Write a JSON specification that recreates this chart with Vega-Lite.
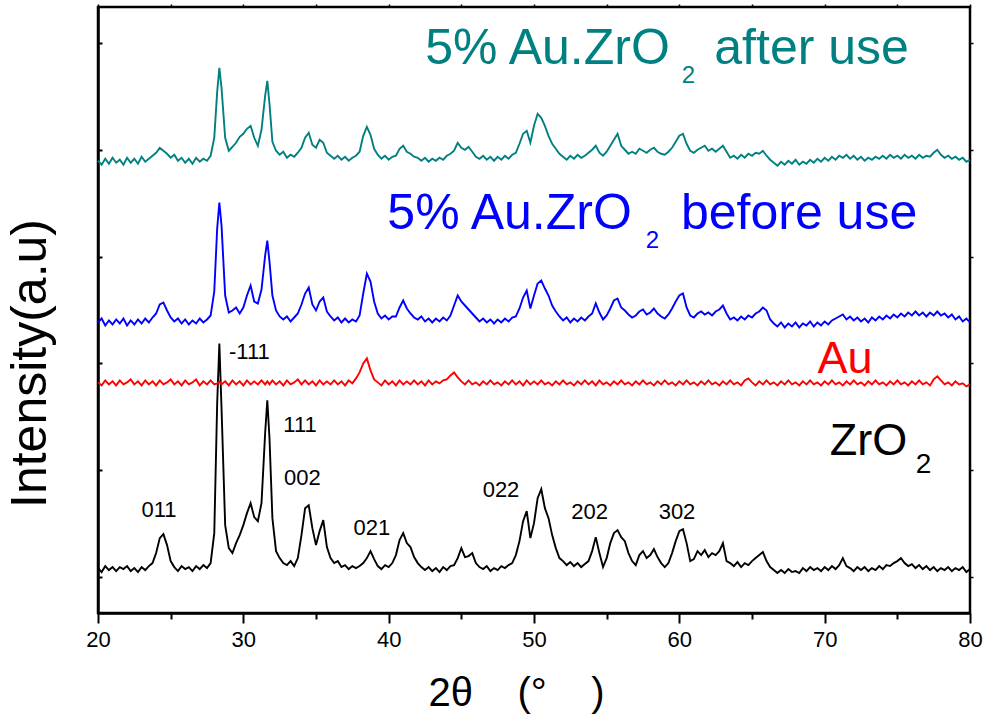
{
  "$schema": "https://vega.github.io/schema/vega-lite/v6.json",
  "width": 872,
  "height": 606,
  "autosize": "none",
  "padding": {"left": 98, "top": 7, "right": 15, "bottom": 112},
  "background": "white",
  "config": {
    "view": {"stroke": "black", "strokeWidth": 2.5},
    "font": "Liberation Sans",
    "axis": {"grid": false}
  },
  "datasets": {
    "xrd": [
      {"x":20,"k":45,"r":231,"b":291,"t":453},
      {"x":20.25,"k":41,"r":228,"b":295,"t":449},
      {"x":20.5,"k":47,"r":233,"b":288,"t":455},
      {"x":20.75,"k":43,"r":229,"b":293,"t":450},
      {"x":21,"k":46,"r":232,"b":289,"t":456},
      {"x":21.25,"k":42,"r":228,"b":294,"t":451},
      {"x":21.5,"k":46,"r":233,"b":290,"t":454},
      {"x":21.75,"k":44,"r":229,"b":295,"t":449},
      {"x":22,"k":47,"r":231,"b":288,"t":456},
      {"x":22.25,"k":42,"r":234,"b":293,"t":451},
      {"x":22.5,"k":45,"r":229,"b":289,"t":455},
      {"x":22.75,"k":41,"r":232,"b":294,"t":450},
      {"x":23,"k":46,"r":228,"b":290,"t":457},
      {"x":23.25,"k":43,"r":233,"b":295,"t":452},
      {"x":23.5,"k":47,"r":229,"b":291,"t":455},
      {"x":23.75,"k":50,"r":232,"b":296,"t":458},
      {"x":24,"k":60,"r":228,"b":300,"t":461},
      {"x":24.25,"k":75,"r":233,"b":309,"t":466},
      {"x":24.5,"k":79,"r":229,"b":311,"t":463},
      {"x":24.75,"k":68,"r":231,"b":303,"t":460},
      {"x":25,"k":52,"r":234,"b":296,"t":456},
      {"x":25.25,"k":46,"r":229,"b":292,"t":459},
      {"x":25.5,"k":42,"r":232,"b":295,"t":453},
      {"x":25.75,"k":47,"r":228,"b":290,"t":456},
      {"x":26,"k":44,"r":233,"b":294,"t":451},
      {"x":26.25,"k":46,"r":229,"b":289,"t":455},
      {"x":26.5,"k":42,"r":231,"b":293,"t":450},
      {"x":26.75,"k":47,"r":234,"b":290,"t":456},
      {"x":27,"k":44,"r":228,"b":295,"t":452},
      {"x":27.25,"k":48,"r":232,"b":291,"t":455},
      {"x":27.5,"k":45,"r":229,"b":294,"t":453},
      {"x":27.75,"k":50,"r":233,"b":298,"t":458},
      {"x":28,"k":80,"r":229,"b":322,"t":476},
      {"x":28.2,"k":210,"r":230,"b":385,"t":522},
      {"x":28.35,"k":270,"r":232,"b":411,"t":546},
      {"x":28.5,"k":205,"r":229,"b":388,"t":526},
      {"x":28.75,"k":88,"r":232,"b":318,"t":476},
      {"x":29,"k":65,"r":228,"b":301,"t":463},
      {"x":29.25,"k":60,"r":233,"b":303,"t":467},
      {"x":29.5,"k":70,"r":229,"b":306,"t":471},
      {"x":29.75,"k":78,"r":232,"b":300,"t":477},
      {"x":30,"k":88,"r":228,"b":306,"t":480},
      {"x":30.25,"k":100,"r":233,"b":318,"t":485},
      {"x":30.5,"k":110,"r":229,"b":328,"t":488},
      {"x":30.75,"k":96,"r":232,"b":312,"t":476},
      {"x":31,"k":92,"r":229,"b":310,"t":468},
      {"x":31.25,"k":110,"r":233,"b":324,"t":484},
      {"x":31.5,"k":180,"r":229,"b":358,"t":518},
      {"x":31.65,"k":213,"r":232,"b":373,"t":533},
      {"x":31.8,"k":175,"r":229,"b":352,"t":510},
      {"x":32,"k":95,"r":233,"b":318,"t":472},
      {"x":32.25,"k":62,"r":229,"b":303,"t":463},
      {"x":32.5,"k":55,"r":232,"b":297,"t":459},
      {"x":32.75,"k":50,"r":228,"b":294,"t":462},
      {"x":33,"k":48,"r":233,"b":297,"t":456},
      {"x":33.25,"k":52,"r":229,"b":292,"t":459},
      {"x":33.5,"k":47,"r":231,"b":296,"t":457},
      {"x":33.75,"k":55,"r":234,"b":300,"t":461},
      {"x":34,"k":78,"r":229,"b":309,"t":466},
      {"x":34.25,"k":105,"r":233,"b":320,"t":476},
      {"x":34.5,"k":108,"r":229,"b":326,"t":481},
      {"x":34.75,"k":85,"r":232,"b":309,"t":469},
      {"x":35,"k":68,"r":228,"b":303,"t":466},
      {"x":35.25,"k":82,"r":233,"b":312,"t":474},
      {"x":35.5,"k":93,"r":229,"b":316,"t":471},
      {"x":35.75,"k":66,"r":232,"b":302,"t":461},
      {"x":36,"k":55,"r":229,"b":297,"t":458},
      {"x":36.25,"k":50,"r":233,"b":293,"t":455},
      {"x":36.5,"k":52,"r":229,"b":296,"t":458},
      {"x":36.75,"k":46,"r":232,"b":291,"t":454},
      {"x":37,"k":48,"r":228,"b":295,"t":457},
      {"x":37.25,"k":44,"r":233,"b":291,"t":453},
      {"x":37.5,"k":47,"r":230,"b":294,"t":456},
      {"x":37.75,"k":45,"r":235,"b":292,"t":458},
      {"x":38,"k":47,"r":241,"b":298,"t":462},
      {"x":38.25,"k":50,"r":250,"b":320,"t":478},
      {"x":38.5,"k":55,"r":255,"b":340,"t":487},
      {"x":38.75,"k":62,"r":243,"b":332,"t":479},
      {"x":39,"k":54,"r":234,"b":312,"t":465},
      {"x":39.25,"k":47,"r":231,"b":300,"t":459},
      {"x":39.5,"k":44,"r":228,"b":295,"t":455},
      {"x":39.75,"k":48,"r":233,"b":298,"t":458},
      {"x":40,"k":46,"r":229,"b":294,"t":454},
      {"x":40.25,"k":50,"r":232,"b":297,"t":457},
      {"x":40.5,"k":58,"r":228,"b":297,"t":458},
      {"x":40.75,"k":73,"r":233,"b":306,"t":465},
      {"x":41,"k":80,"r":229,"b":313,"t":468},
      {"x":41.25,"k":70,"r":232,"b":305,"t":462},
      {"x":41.5,"k":66,"r":229,"b":300,"t":460},
      {"x":41.75,"k":56,"r":233,"b":296,"t":457},
      {"x":42,"k":50,"r":229,"b":294,"t":456},
      {"x":42.25,"k":46,"r":232,"b":297,"t":453},
      {"x":42.5,"k":43,"r":228,"b":292,"t":456},
      {"x":42.75,"k":46,"r":233,"b":295,"t":452},
      {"x":43,"k":42,"r":229,"b":291,"t":455},
      {"x":43.25,"k":45,"r":232,"b":295,"t":453},
      {"x":43.5,"k":41,"r":230,"b":292,"t":456},
      {"x":43.75,"k":46,"r":233,"b":296,"t":454},
      {"x":44,"k":43,"r":234,"b":293,"t":458},
      {"x":44.25,"k":47,"r":238,"b":298,"t":460},
      {"x":44.5,"k":48,"r":241,"b":308,"t":463},
      {"x":44.75,"k":55,"r":236,"b":318,"t":471},
      {"x":45,"k":65,"r":232,"b":312,"t":466},
      {"x":45.25,"k":56,"r":229,"b":308,"t":464},
      {"x":45.5,"k":57,"r":233,"b":304,"t":467},
      {"x":45.75,"k":60,"r":229,"b":300,"t":462},
      {"x":46,"k":50,"r":231,"b":296,"t":457},
      {"x":46.25,"k":46,"r":228,"b":292,"t":455},
      {"x":46.5,"k":44,"r":232,"b":295,"t":458},
      {"x":46.75,"k":47,"r":229,"b":291,"t":454},
      {"x":47,"k":42,"r":233,"b":294,"t":457},
      {"x":47.25,"k":45,"r":229,"b":290,"t":453},
      {"x":47.5,"k":43,"r":231,"b":294,"t":457},
      {"x":47.75,"k":47,"r":228,"b":291,"t":454},
      {"x":48,"k":45,"r":232,"b":295,"t":458},
      {"x":48.25,"k":48,"r":229,"b":292,"t":455},
      {"x":48.5,"k":50,"r":233,"b":296,"t":459},
      {"x":48.75,"k":58,"r":229,"b":297,"t":461},
      {"x":49,"k":72,"r":232,"b":305,"t":470},
      {"x":49.25,"k":92,"r":228,"b":316,"t":480},
      {"x":49.5,"k":102,"r":233,"b":323,"t":483},
      {"x":49.75,"k":75,"r":229,"b":305,"t":471},
      {"x":50,"k":90,"r":232,"b":318,"t":488},
      {"x":50.25,"k":115,"r":229,"b":330,"t":500},
      {"x":50.5,"k":124,"r":233,"b":333,"t":496},
      {"x":50.75,"k":105,"r":229,"b":325,"t":488},
      {"x":51,"k":95,"r":231,"b":318,"t":478},
      {"x":51.25,"k":78,"r":228,"b":308,"t":470},
      {"x":51.5,"k":65,"r":232,"b":302,"t":465},
      {"x":51.75,"k":55,"r":229,"b":297,"t":460},
      {"x":52,"k":52,"r":233,"b":293,"t":457},
      {"x":52.25,"k":48,"r":229,"b":296,"t":454},
      {"x":52.5,"k":51,"r":231,"b":291,"t":458},
      {"x":52.75,"k":47,"r":228,"b":295,"t":455},
      {"x":53,"k":50,"r":232,"b":292,"t":459},
      {"x":53.25,"k":46,"r":229,"b":296,"t":456},
      {"x":53.5,"k":49,"r":233,"b":293,"t":458},
      {"x":53.75,"k":52,"r":229,"b":297,"t":461},
      {"x":54,"k":62,"r":232,"b":300,"t":464},
      {"x":54.25,"k":76,"r":228,"b":310,"t":468},
      {"x":54.5,"k":60,"r":233,"b":301,"t":461},
      {"x":54.75,"k":46,"r":229,"b":294,"t":458},
      {"x":55,"k":55,"r":231,"b":298,"t":462},
      {"x":55.25,"k":70,"r":228,"b":305,"t":468},
      {"x":55.5,"k":80,"r":232,"b":313,"t":474},
      {"x":55.75,"k":83,"r":229,"b":315,"t":480},
      {"x":56,"k":76,"r":233,"b":306,"t":468},
      {"x":56.25,"k":72,"r":229,"b":303,"t":464},
      {"x":56.5,"k":60,"r":231,"b":299,"t":460},
      {"x":56.75,"k":52,"r":228,"b":296,"t":462},
      {"x":57,"k":48,"r":232,"b":298,"t":460},
      {"x":57.25,"k":58,"r":229,"b":302,"t":465},
      {"x":57.5,"k":62,"r":233,"b":304,"t":463},
      {"x":57.75,"k":55,"r":229,"b":299,"t":461},
      {"x":58,"k":58,"r":231,"b":301,"t":464},
      {"x":58.25,"k":64,"r":228,"b":305,"t":466},
      {"x":58.5,"k":56,"r":232,"b":300,"t":462},
      {"x":58.75,"k":50,"r":229,"b":297,"t":460},
      {"x":59,"k":46,"r":233,"b":295,"t":459},
      {"x":59.25,"k":50,"r":229,"b":299,"t":462},
      {"x":59.5,"k":60,"r":231,"b":305,"t":466},
      {"x":59.75,"k":72,"r":228,"b":312,"t":472},
      {"x":60,"k":82,"r":232,"b":318,"t":478},
      {"x":60.25,"k":84,"r":229,"b":320,"t":480},
      {"x":60.5,"k":70,"r":233,"b":306,"t":470},
      {"x":60.75,"k":52,"r":229,"b":298,"t":463},
      {"x":61,"k":54,"r":231,"b":296,"t":461},
      {"x":61.25,"k":62,"r":228,"b":300,"t":464},
      {"x":61.5,"k":58,"r":232,"b":302,"t":466},
      {"x":61.75,"k":63,"r":229,"b":299,"t":468},
      {"x":62,"k":56,"r":233,"b":301,"t":463},
      {"x":62.25,"k":60,"r":229,"b":298,"t":465},
      {"x":62.5,"k":58,"r":231,"b":302,"t":462},
      {"x":62.75,"k":62,"r":228,"b":304,"t":465},
      {"x":63,"k":70,"r":232,"b":308,"t":468},
      {"x":63.25,"k":52,"r":229,"b":300,"t":462},
      {"x":63.5,"k":50,"r":233,"b":294,"t":456},
      {"x":63.75,"k":47,"r":229,"b":296,"t":458},
      {"x":64,"k":51,"r":231,"b":293,"t":455},
      {"x":64.25,"k":46,"r":228,"b":297,"t":459},
      {"x":64.5,"k":50,"r":233,"b":294,"t":456},
      {"x":64.75,"k":48,"r":235,"b":298,"t":460},
      {"x":65,"k":52,"r":231,"b":296,"t":458},
      {"x":65.25,"k":55,"r":228,"b":300,"t":461},
      {"x":65.5,"k":58,"r":232,"b":302,"t":460},
      {"x":65.75,"k":61,"r":229,"b":306,"t":463},
      {"x":66,"k":52,"r":233,"b":303,"t":458},
      {"x":66.25,"k":46,"r":229,"b":294,"t":454},
      {"x":66.5,"k":43,"r":231,"b":290,"t":451},
      {"x":66.75,"k":40,"r":228,"b":287,"t":448},
      {"x":67,"k":43,"r":232,"b":291,"t":452},
      {"x":67.25,"k":40,"r":229,"b":286,"t":449},
      {"x":67.5,"k":44,"r":233,"b":290,"t":453},
      {"x":67.75,"k":41,"r":229,"b":287,"t":450},
      {"x":68,"k":42,"r":231,"b":291,"t":454},
      {"x":68.25,"k":40,"r":228,"b":286,"t":449},
      {"x":68.5,"k":45,"r":232,"b":290,"t":452},
      {"x":68.75,"k":42,"r":229,"b":288,"t":450},
      {"x":69,"k":46,"r":233,"b":292,"t":454},
      {"x":69.25,"k":43,"r":229,"b":287,"t":451},
      {"x":69.5,"k":45,"r":231,"b":291,"t":455},
      {"x":69.75,"k":42,"r":228,"b":288,"t":452},
      {"x":70,"k":46,"r":232,"b":292,"t":456},
      {"x":70.25,"k":43,"r":229,"b":289,"t":453},
      {"x":70.5,"k":47,"r":233,"b":293,"t":457},
      {"x":70.75,"k":44,"r":229,"b":295,"t":454},
      {"x":71,"k":48,"r":231,"b":297,"t":458},
      {"x":71.25,"k":55,"r":228,"b":299,"t":456},
      {"x":71.5,"k":47,"r":232,"b":294,"t":459},
      {"x":71.75,"k":45,"r":229,"b":297,"t":455},
      {"x":72,"k":42,"r":233,"b":293,"t":458},
      {"x":72.25,"k":46,"r":229,"b":296,"t":454},
      {"x":72.5,"k":43,"r":231,"b":292,"t":457},
      {"x":72.75,"k":46,"r":228,"b":295,"t":453},
      {"x":73,"k":42,"r":232,"b":291,"t":456},
      {"x":73.25,"k":45,"r":229,"b":296,"t":454},
      {"x":73.5,"k":43,"r":233,"b":293,"t":457},
      {"x":73.75,"k":47,"r":229,"b":297,"t":455},
      {"x":74,"k":44,"r":231,"b":294,"t":458},
      {"x":74.25,"k":48,"r":228,"b":298,"t":455},
      {"x":74.5,"k":47,"r":232,"b":295,"t":459},
      {"x":74.75,"k":50,"r":229,"b":299,"t":456},
      {"x":75,"k":52,"r":233,"b":296,"t":458},
      {"x":75.25,"k":55,"r":229,"b":300,"t":455},
      {"x":75.5,"k":50,"r":231,"b":297,"t":459},
      {"x":75.75,"k":47,"r":228,"b":301,"t":456},
      {"x":76,"k":49,"r":232,"b":298,"t":458},
      {"x":76.25,"k":45,"r":229,"b":302,"t":455},
      {"x":76.5,"k":48,"r":233,"b":298,"t":459},
      {"x":76.75,"k":44,"r":229,"b":301,"t":456},
      {"x":77,"k":47,"r":231,"b":297,"t":458},
      {"x":77.25,"k":43,"r":228,"b":301,"t":457},
      {"x":77.5,"k":46,"r":234,"b":298,"t":461},
      {"x":77.75,"k":42,"r":237,"b":302,"t":464},
      {"x":78,"k":45,"r":233,"b":298,"t":459},
      {"x":78.25,"k":43,"r":229,"b":300,"t":456},
      {"x":78.5,"k":46,"r":231,"b":296,"t":458},
      {"x":78.75,"k":42,"r":228,"b":299,"t":455},
      {"x":79,"k":45,"r":232,"b":294,"t":457},
      {"x":79.25,"k":43,"r":229,"b":297,"t":454},
      {"x":79.5,"k":46,"r":230,"b":292,"t":456},
      {"x":79.75,"k":41,"r":227,"b":295,"t":452},
      {"x":80,"k":44,"r":229,"b":291,"t":454}
    ],
    "peaks": [
      {"x":24.2,"y":96,"txt":"011"},
      {"x":30.42,"y":254,"txt":"-111"},
      {"x":33.9,"y":181,"txt":"111"},
      {"x":34.07,"y":128,"txt":"002"},
      {"x":38.85,"y":78,"txt":"021"},
      {"x":47.73,"y":116,"txt":"022"},
      {"x":53.82,"y":94,"txt":"202"},
      {"x":59.84,"y":94,"txt":"302"}
    ],
    "bignames": [
      {"x":50.93,"y":550,"txt":"5% Au.ZrO","series":"t"},
      {"x":69.1,"y":550,"txt":"after use","series":"t"},
      {"x":48.32,"y":385,"txt":"5% Au.ZrO","series":"b"},
      {"x":68.24,"y":385,"txt":"before use","series":"b"}
    ],
    "midnames": [
      {"x":71.4,"y":240,"txt":"Au","series":"r"},
      {"x":73.02,"y":158,"txt":"ZrO","series":"k"}
    ],
    "subs": [
      {"x":60.63,"y":531,"txt":"2","series":"t"},
      {"x":58.15,"y":366,"txt":"2","series":"b"}
    ],
    "subk": [
      {"x":76.8,"y":140,"txt":"2","series":"k"}
    ]
  },
  "layer": [
    {
      "data": {"name": "xrd"},
      "transform": [{"fold": ["k", "r", "b", "t"], "as": ["series", "val"]}],
      "mark": {"type": "line", "strokeWidth": 1.9},
      "encoding": {
        "x": {
          "field": "x", "type": "quantitative",
          "scale": {"domain": [20, 80], "nice": false, "zero": false},
          "axis": {
            "orient": "bottom",
            "values": [20, 25, 30, 35, 40, 45, 50, 55, 60, 65, 70, 75, 80],
            "labelExpr": "datum.value % 10 === 0 ? datum.label : ''",
            "labelOverlap": false,
            "labelFlush": false,
            "labelFont": "Liberation Sans",
            "labelFontSize": 22,
            "labelColor": "black",
            "labelPadding": 6,
            "domainColor": "black",
            "domainWidth": 2.5,
            "tickColor": "black",
            "tickWidth": 2,
            "tickSize": {"condition": {"test": "datum.value % 10 === 0", "value": 10}, "value": 6},
            "title": "2θ\u00a0\u00a0\u00a0\u00a0(°\u00a0\u00a0\u00a0\u00a0)",
            "titleFont": "Liberation Sans",
            "titleFontSize": 40,
            "titleFontWeight": "normal",
            "titleColor": "black",
            "titleX": 418,
            "titleY": 92,
            "titleAlign": "center",
            "titleBaseline": "alphabetic"
          }
        },
        "y": {
          "field": "val", "type": "quantitative",
          "scale": {"domain": [0, 607], "nice": false, "zero": false},
          "axis": {
            "orient": "left",
            "values": [36, 143, 250, 357, 464, 571],
            "labels": false,
            "domainColor": "black",
            "domainWidth": 2.5,
            "tickColor": "black",
            "tickWidth": 2,
            "tickSize": -4,
            "title": "Intensity(a.u)",
            "titleFont": "Liberation Sans",
            "titleFontSize": 50,
            "titleFontWeight": "normal",
            "titleColor": "black",
            "titleAngle": 270,
            "titleX": -53,
            "titleY": 356,
            "titleAlign": "center",
            "titleBaseline": "alphabetic"
          }
        },
        "color": {
          "field": "series", "type": "nominal",
          "scale": {"domain": ["k", "r", "b", "t"], "range": ["#000000", "#ff0000", "#0000ff", "#008080"]},
          "legend": null
        }
      }
    },
    {
      "data": {"name": "peaks"},
      "mark": {"type": "text", "fontSize": 22, "align": "center", "baseline": "alphabetic", "color": "black", "font": "Liberation Sans"},
      "encoding": {
        "x": {
          "field": "x", "type": "quantitative",
          "scale": {"domain": [20, 80], "nice": false, "zero": false},
          "axis": {
            "orient": "top",
            "values": [20, 25, 30, 35, 40, 45, 50, 55, 60, 65, 70, 75, 80],
            "labels": false, "domain": false, "title": null,
            "tickColor": "black", "tickWidth": 1.5, "tickSize": 3
          }
        },
        "y": {
          "field": "y", "type": "quantitative",
          "scale": {"domain": [0, 607], "nice": false, "zero": false},
          "axis": {
            "orient": "right",
            "values": [36, 143, 250, 357, 464, 571],
            "labels": false, "domain": false, "title": null,
            "tickColor": "black", "tickWidth": 1.5, "tickSize": 3
          }
        },
        "text": {"field": "txt"}
      }
    },
    {
      "data": {"name": "bignames"},
      "mark": {"type": "text", "fontSize": 50, "align": "center", "baseline": "alphabetic", "font": "Liberation Sans"},
      "encoding": {
        "x": {"field": "x", "type": "quantitative", "scale": {"domain": [20, 80], "nice": false, "zero": false}, "axis": null},
        "y": {"field": "y", "type": "quantitative", "scale": {"domain": [0, 607], "nice": false, "zero": false}, "axis": null},
        "color": {"field": "series", "type": "nominal", "scale": {"domain": ["k", "r", "b", "t"], "range": ["#000000", "#ff0000", "#0000ff", "#008080"]}, "legend": null},
        "text": {"field": "txt"}
      }
    },
    {
      "data": {"name": "midnames"},
      "mark": {"type": "text", "fontSize": 45, "align": "center", "baseline": "alphabetic", "font": "Liberation Sans"},
      "encoding": {
        "x": {"field": "x", "type": "quantitative", "scale": {"domain": [20, 80], "nice": false, "zero": false}, "axis": null},
        "y": {"field": "y", "type": "quantitative", "scale": {"domain": [0, 607], "nice": false, "zero": false}, "axis": null},
        "color": {"field": "series", "type": "nominal", "scale": {"domain": ["k", "r", "b", "t"], "range": ["#000000", "#ff0000", "#0000ff", "#008080"]}, "legend": null},
        "text": {"field": "txt"}
      }
    },
    {
      "data": {"name": "subs"},
      "mark": {"type": "text", "fontSize": 24, "align": "center", "baseline": "alphabetic", "font": "Liberation Sans"},
      "encoding": {
        "x": {"field": "x", "type": "quantitative", "scale": {"domain": [20, 80], "nice": false, "zero": false}, "axis": null},
        "y": {"field": "y", "type": "quantitative", "scale": {"domain": [0, 607], "nice": false, "zero": false}, "axis": null},
        "color": {"field": "series", "type": "nominal", "scale": {"domain": ["k", "r", "b", "t"], "range": ["#000000", "#ff0000", "#0000ff", "#008080"]}, "legend": null},
        "text": {"field": "txt"}
      }
    },
    {
      "data": {"name": "subk"},
      "mark": {"type": "text", "fontSize": 28, "align": "center", "baseline": "alphabetic", "font": "Liberation Sans"},
      "encoding": {
        "x": {"field": "x", "type": "quantitative", "scale": {"domain": [20, 80], "nice": false, "zero": false}, "axis": null},
        "y": {"field": "y", "type": "quantitative", "scale": {"domain": [0, 607], "nice": false, "zero": false}, "axis": null},
        "color": {"field": "series", "type": "nominal", "scale": {"domain": ["k", "r", "b", "t"], "range": ["#000000", "#ff0000", "#0000ff", "#008080"]}, "legend": null},
        "text": {"field": "txt"}
      }
    }
  ],
  "resolve": {"axis": {"x": "independent", "y": "independent"}}
}
